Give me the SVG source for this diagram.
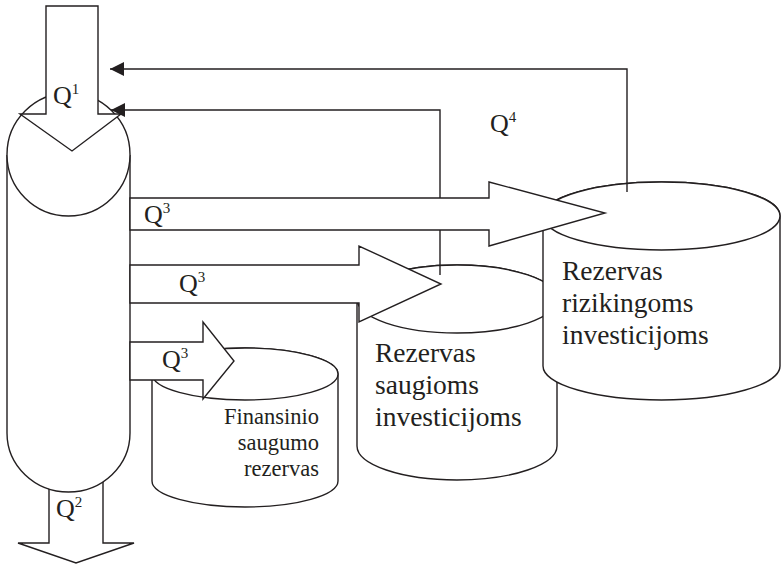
<svg xmlns="http://www.w3.org/2000/svg" width="781" height="564" viewBox="0 0 781 564">
  <style>
    .ln { fill: none; stroke: #231f20; stroke-width: 1.4; }
    .sh { fill: #ffffff; stroke: #231f20; stroke-width: 1.4; stroke-linejoin: miter; }
    .t { font-family: "Liberation Serif", "Times New Roman", serif; fill: #231f20; }
    .big { font-size: 27.5px; }
    .small { font-size: 22.5px; }
    .q { font-size: 26px; }
    .sup { font-size: 15px; }
  </style>
  <defs>
    <marker id="head" markerUnits="userSpaceOnUse" markerWidth="16" markerHeight="14" refX="14" refY="7" orient="auto">
      <path d="M0,0 L14,7 L0,14 Z" fill="#231f20"/>
    </marker>
  </defs>

  <!-- reserve for safe investments (behind the risky one) -->
  <g id="reserve-safe">
    <path class="sh" d="M357,299 L357,446 A100,34 0 0 0 557,446 L557,299 A100,34 0 0 0 357,299 Z"/>
    <ellipse class="sh" cx="457" cy="299" rx="100" ry="34"/>
    <text class="t big" x="375" y="362">Rezervas</text>
    <text class="t big" x="375" y="394">saugioms</text>
    <text class="t big" x="375" y="426">investicijoms</text>
  </g>

  <!-- reserve for risky investments -->
  <g id="reserve-risky">
    <path class="sh" d="M543,216 L543,366 A118.5,34 0 0 0 780,366 L780,216 A118.5,34 0 0 0 543,216 Z"/>
    <ellipse class="sh" cx="661.5" cy="216" rx="118.5" ry="34"/>
    <text class="t big" x="562" y="280">Rezervas</text>
    <text class="t big" x="562" y="312">rizikingoms</text>
    <text class="t big" x="562" y="344">investicijoms</text>
  </g>

  <!-- financial safety reserve -->
  <g id="reserve-safety">
    <path class="sh" d="M152,374 L152,481 A93,26 0 0 0 338,481 L338,374 A93,26 0 0 0 152,374 Z"/>
    <ellipse class="sh" cx="245" cy="374" rx="93" ry="26"/>
    <text class="t small" x="319" y="424" text-anchor="end">Finansinio</text>
    <text class="t small" x="319" y="450" text-anchor="end">saugumo</text>
    <text class="t small" x="319" y="476" text-anchor="end">rezervas</text>
  </g>

  <!-- outflow Q2 -->
  <g id="flow-q2">
    <polygon class="sh" points="49,470 103,470 103,543 134,543 76,563 18,543 49,543"/>
    <text class="t q" x="56" y="517">Q<tspan class="sup" dy="-10">2</tspan></text>
  </g>

  <!-- main column -->
  <g id="column">
    <path class="sh" d="M7,155 L7,433 A61.5,59 0 0 0 130,433 L130,155"/>
    <circle class="sh" cx="68.5" cy="154.5" r="61.5"/>
  </g>

  <!-- inflow Q1 -->
  <g id="flow-q1">
    <polygon class="sh" points="46,6 98,6 98,114 121,114 72,151 20,114 46,114"/>
    <text class="t q" x="53" y="104">Q<tspan class="sup" dy="-10">1</tspan></text>
  </g>

  <!-- Q3 transfers into the reserves -->
  <g id="flow-q3-risky">
    <polygon class="sh" points="130,198 489,198 489,182 605,213 489,246 489,230 130,230"/>
    <text class="t q" x="144" y="223">Q<tspan class="sup" dy="-10">3</tspan></text>
  </g>
  <g id="flow-q3-safe">
    <polygon class="sh" points="130,265 359,265 359,246 441,284 359,322 359,303 130,303"/>
    <text class="t q" x="179" y="292">Q<tspan class="sup" dy="-10">3</tspan></text>
  </g>
  <g id="flow-q3-safety">
    <polygon class="sh" points="130,342 203,342 203,322 234,361 203,399 203,380 130,380"/>
    <text class="t q" x="162" y="368">Q<tspan class="sup" dy="-10">3</tspan></text>
  </g>

  <!-- Q4 returns back to the column -->
  <g id="connectors">
    <path class="ln" d="M627,192 V69 H110" marker-end="url(#head)"/>
    <path class="ln" d="M440,275 V230 M440,198 V110 H111" marker-end="url(#head)"/>
    <text class="t q" x="490" y="132">Q<tspan class="sup" dy="-10">4</tspan></text>
  </g>
</svg>
